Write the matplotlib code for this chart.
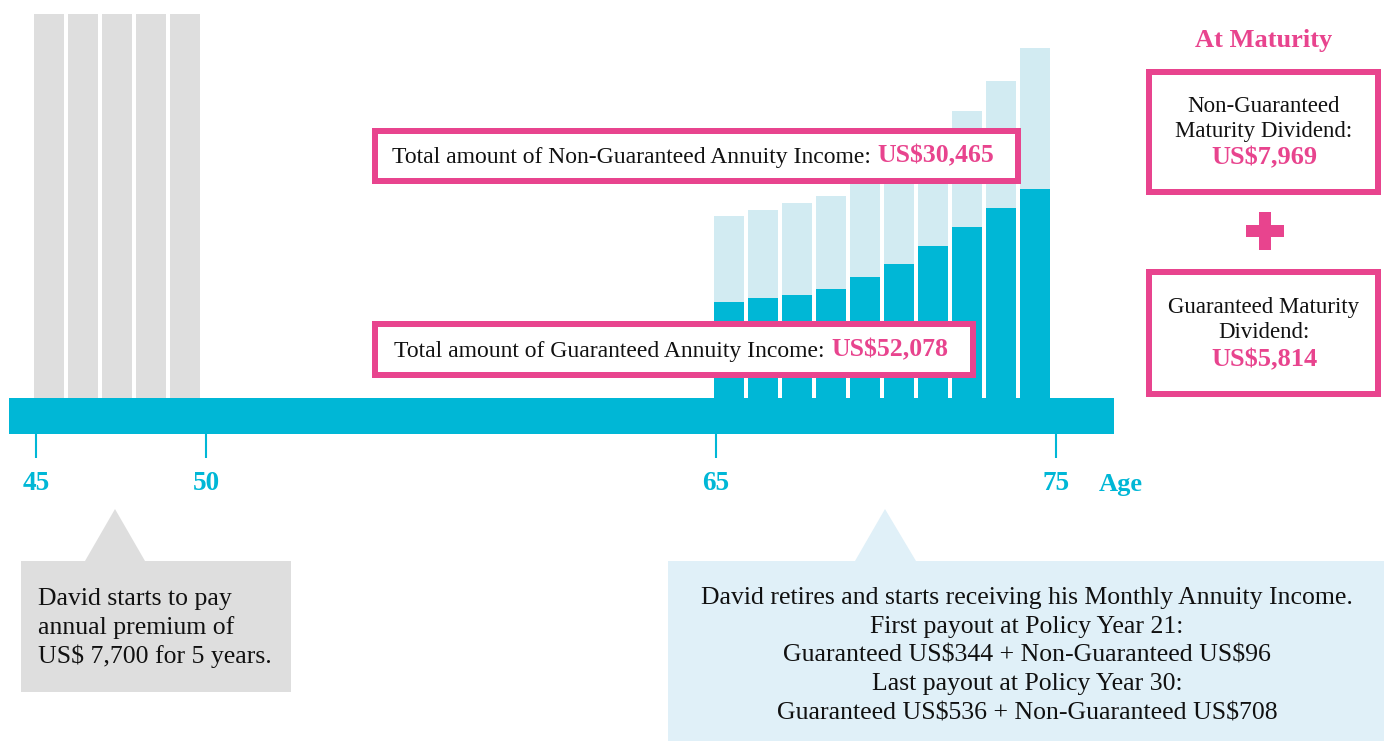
import matplotlib
matplotlib.use("Agg")
import matplotlib.pyplot as plt
from matplotlib.patches import Rectangle, Polygon

# ---------------- data ----------------
premium_ages = [45, 46, 47, 48, 49]
premium_height = [384, 384, 384, 384, 384]
payout_ages = [65, 66, 67, 68, 69, 70, 71, 72, 73, 74]
guaranteed = [96, 100, 103, 109, 121, 134, 152, 171, 190, 209]
non_guaranteed = [86, 88, 92, 93, 101, 104, 106, 116, 127, 141]
tick_ages = [45, 50, 65, 75]
tick_labels = ["45", "50", "65", "75"]

ng_total_label = "Total amount of Non-Guaranteed Annuity Income: "
ng_total_value = "US$30,465"
g_total_label = "Total amount of Guaranteed Annuity Income: "
g_total_value = "US$52,078"
ng_maturity_lines = ["Non-Guaranteed", "Maturity Dividend:"]
ng_maturity_value = "US$7,969"
g_maturity_lines = ["Guaranteed Maturity", "Dividend:"]
g_maturity_value = "US$5,814"
left_note = ["David starts to pay", "annual premium of", "US$ 7,700 for 5 years."]
right_note = ["David retires and starts receiving his Monthly Annuity Income.",
              "First payout at Policy Year 21:",
              "Guaranteed US$344 + Non-Guaranteed US$96",
              "Last payout at Policy Year 30:",
              "Guaranteed US$536 + Non-Guaranteed US$708"]

# ---------------- style ----------------
TEAL = "#00B7D6"
LIGHT = "#D2EBF2"
GRAY = "#DEDEDE"
PINK = "#E8448E"
NOTE_BLUE = "#E0F0F8"
SERIF = ["Liberation Serif", "DejaVu Serif"]
plt.rcParams["font.family"] = SERIF
plt.rcParams["text.parse_math"] = False

W, H = 1389, 743
fig = plt.figure(figsize=(W / 100, H / 100), dpi=100)
fig.patch.set_facecolor("white")

# main data axes: 34 px per year, age 45 at px 36, value 0 at px 398 from top
ax = fig.add_axes([0, 0, 1, 1])
ax.set_xlim(45 - 36 / 34, 45 + (W - 36) / 34)
ax.set_ylim(-(H - 398), 398)
ax.axis("off")

bw = 30 / 34
off = -2 / 34 + bw / 2
ax.bar([a + off for a in premium_ages], premium_height, width=bw, color=GRAY, zorder=2)
ax.bar([a + off for a in payout_ages], guaranteed, width=bw, color=TEAL, zorder=2)
ax.bar([a + off for a in payout_ages], non_guaranteed, bottom=guaranteed, width=bw,
       color=LIGHT, zorder=2)

# baseline band
ax.add_patch(Rectangle((45 - 27 / 34, -36), (1114 - 9) / 34, 36, color=TEAL, zorder=3, lw=0))
ax.vlines(tick_ages, -60, -36, color=TEAL, lw=1.5, zorder=3)
for a, lab in zip(tick_ages, tick_labels):
    ax.text(a, -85, lab, ha="center", va="center", fontsize=19.5, fontweight="bold",
            color=TEAL)
ax.text(45 + (1121 - 36) / 34, -86, "Age", ha="center", va="center", fontsize=19,
        fontweight="bold", color=TEAL)

# overlay axes in pixel coordinates
ov = fig.add_axes([0, 0, 1, 1], zorder=5)
ov.set_xlim(0, W)
ov.set_ylim(H, 0)
ov.axis("off")
ov.patch.set_alpha(0)

BORDER = 6 * 0.72


def frame(x0, y0, x1, y1):
    ov.add_patch(Rectangle((x0 + 3, y0 + 3), x1 - x0 - 6, y1 - y0 - 6, facecolor="white",
                           edgecolor=PINK, lw=BORDER, zorder=1))


renderer = fig.canvas.get_renderer()


def two_part(x, y, s1, s2):
    t1 = ov.text(x, y, s1, ha="left", va="baseline", fontsize=17, color="#111111", zorder=2)
    bb = t1.get_window_extent(renderer)
    ov.text(bb.x1 + 1, y, s2, ha="left", va="baseline", fontsize=18.5, fontweight="bold",
            color=PINK, zorder=2)


frame(372, 128, 1021, 184)
two_part(392, 162.5, ng_total_label, ng_total_value)
frame(372, 321, 976, 378)
two_part(394, 356.5, g_total_label, g_total_value)

# At maturity
ov.text(1264, 40, "At Maturity", ha="center", va="center", fontsize=19, fontweight="bold",
        color=PINK)
frame(1146, 69, 1381, 195)
ov.text(1264, 107, ng_maturity_lines[0], ha="center", va="center", fontsize=16.5, color="#111111")
ov.text(1264, 132, ng_maturity_lines[1], ha="center", va="center", fontsize=16.5, color="#111111")
ov.text(1264, 158, ng_maturity_value, ha="center", va="center", fontsize=19,
        fontweight="bold", color=PINK)

ov.add_patch(Rectangle((1246, 225), 38, 12, color=PINK, lw=0))
ov.add_patch(Rectangle((1259, 212), 12, 38, color=PINK, lw=0))

frame(1146, 269, 1381, 397)
ov.text(1264, 307, g_maturity_lines[0], ha="center", va="center", fontsize=16.5, color="#111111")
ov.text(1264, 333, g_maturity_lines[1], ha="center", va="center", fontsize=16.5, color="#111111")
ov.text(1264, 360, g_maturity_value, ha="center", va="center", fontsize=19,
        fontweight="bold", color=PINK)

# callouts
ov.add_patch(Polygon([(21, 561), (85, 561), (115, 509), (145, 561), (291, 561), (291, 692),
                      (21, 692)], closed=True, color=GRAY, lw=0))
for i, line in enumerate(left_note):
    ov.text(38, 599 + i * 28.8, line, ha="left", va="center", fontsize=18.5, color="#111111")

ov.add_patch(Polygon([(668, 561), (855, 561), (885, 509), (916, 561), (1384, 561), (1384, 741),
                      (668, 741)], closed=True, color=NOTE_BLUE, lw=0))
for i, line in enumerate(right_note):
    ov.text(1027, 598 + i * 28.8, line, ha="center", va="center", fontsize=18.5, color="#111111")

fig.savefig("out.png", dpi=100, facecolor="white")
